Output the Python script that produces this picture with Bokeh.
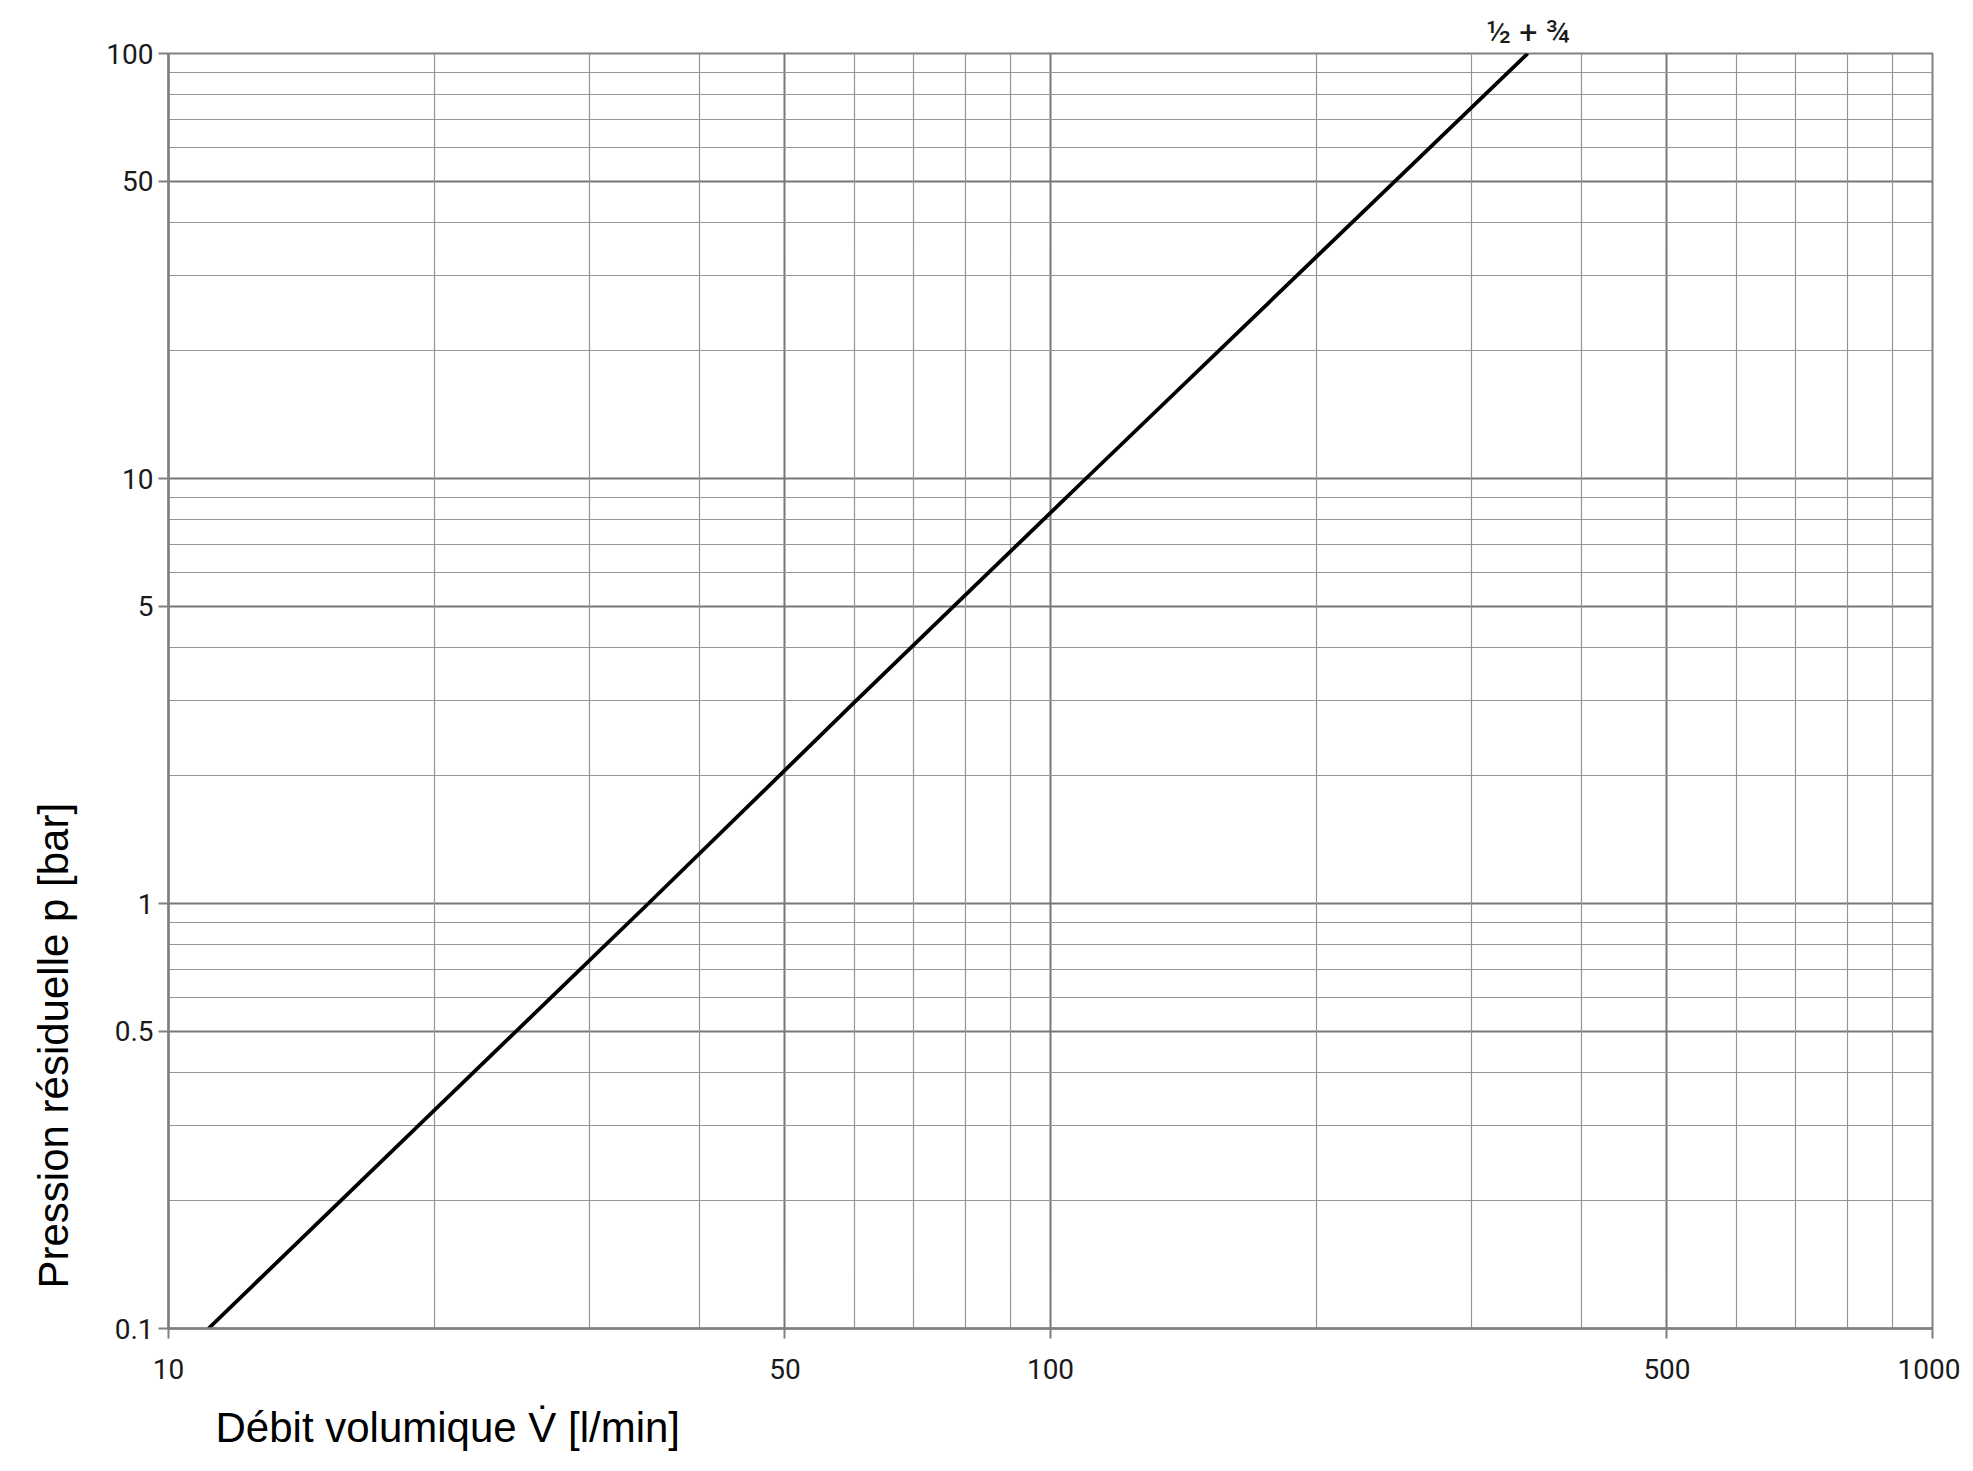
import math
from bokeh.plotting import figure
from bokeh.models import (Range1d, FixedTicker, Grid, CustomJSTickFormatter, Title, ColumnDataSource)
from bokeh.embed import file_html
from bokeh.resources import INLINE

# ---- data ----
flow = [11.1, 35.0, 60.2, 109.7, 347.6]        # l/min
pressure = [0.1, 1.0, 3.0, 10.0, 100.0]        # bar
curve_label = "½ + ¾"

x_major = [10, 50, 100, 500, 1000]
x_minor = [20, 30, 40, 60, 70, 80, 90, 200, 300, 400, 600, 700, 800, 900]
y_major = [0.1, 0.5, 1, 5, 10, 50, 100]
y_minor = [0.2, 0.3, 0.4, 0.6, 0.7, 0.8, 0.9, 2, 3, 4, 6, 7, 8, 9,
           20, 30, 40, 60, 70, 80, 90]

x_title = "Débit volumique V̇ [l/min]"
y_title = "Pression résiduelle p [bar]"

TICK_FONT = "Liberation Sans Narrow, Roboto, sans-serif"
TITLE_FONT = "Liberation Sans"

W, H = 1960, 1470
BL, BR, BT, BB = 167, 28, 53, 142
x_lo, x_hi = 10, 1000

p = figure(width=W, height=H, x_axis_type="log", y_axis_type="log",
           x_range=Range1d(x_lo, x_hi), y_range=Range1d(0.1, 100),
           output_backend="svg", toolbar_location=None,
           min_border_left=BL, min_border_right=BR,
           min_border_top=BT, min_border_bottom=BB)
p.background_fill_color = "white"
p.border_fill_color = "white"
p.outline_line_color = "#808080"
p.outline_line_width = 2

# grids
p.xgrid.ticker = FixedTicker(ticks=x_major)
p.ygrid.ticker = FixedTicker(ticks=y_major)
for g in (p.xgrid[0], p.ygrid[0]):
    g.grid_line_color = "#777777"
    g.grid_line_width = 2
p.add_layout(Grid(dimension=0, ticker=FixedTicker(ticks=x_minor),
                  grid_line_color="#959595", grid_line_width=1.2))
p.add_layout(Grid(dimension=1, ticker=FixedTicker(ticks=y_minor),
                  grid_line_color="#959595", grid_line_width=1.2))

fmt = "return tick.toString();"
for ax, ticks in ((p.xaxis[0], x_major), (p.yaxis[0], y_major)):
    ax.ticker = FixedTicker(ticks=ticks)
    ax.formatter = CustomJSTickFormatter(code=fmt)
    ax.axis_line_color = "#808080"
    ax.axis_line_width = 2.5
    ax.major_tick_line_color = "#808080"
    ax.major_tick_line_width = 2
    ax.major_tick_out = 10
    ax.major_tick_in = 0
    ax.minor_tick_out = 0
    ax.minor_tick_in = 0
    ax.major_label_text_font = TICK_FONT
    ax.major_label_text_font_size = "28px"
    ax.major_label_text_color = "#1a1a1a"
p.xaxis.major_label_standoff = 20
p.yaxis.major_label_standoff = 5

# line
src = ColumnDataSource(dict(x=flow, y=pressure))
p.line("x", "y", source=src, line_color="black", line_width=3.8)

# curve label above the end of the curve (position derived from the data)
frame_w = W - BL - BR
frac = math.log10(flow[-1] / x_lo) / math.log10(x_hi / x_lo)
label_half_w = 42
p.title.text = curve_label
p.title.align = "left"
p.title.offset = frame_w * frac - label_half_w
p.title.standoff = 6
p.title.text_font = TICK_FONT
p.title.text_font_size = "32px"
p.title.text_font_style = "normal"
p.title.text_color = "#1a1a1a"

# axis titles
p.add_layout(Title(text=x_title, align="left", offset=47, standoff=40,
                   text_font=TITLE_FONT, text_font_size="42px",
                   text_font_style="normal", text_color="black"), "below")
p.add_layout(Title(text=y_title, align="left", offset=40, standoff=54,
                   text_font=TITLE_FONT, text_font_size="42px",
                   text_font_style="normal", text_color="black"), "left")

open("out.html", "w").write(file_html(p, INLINE))
